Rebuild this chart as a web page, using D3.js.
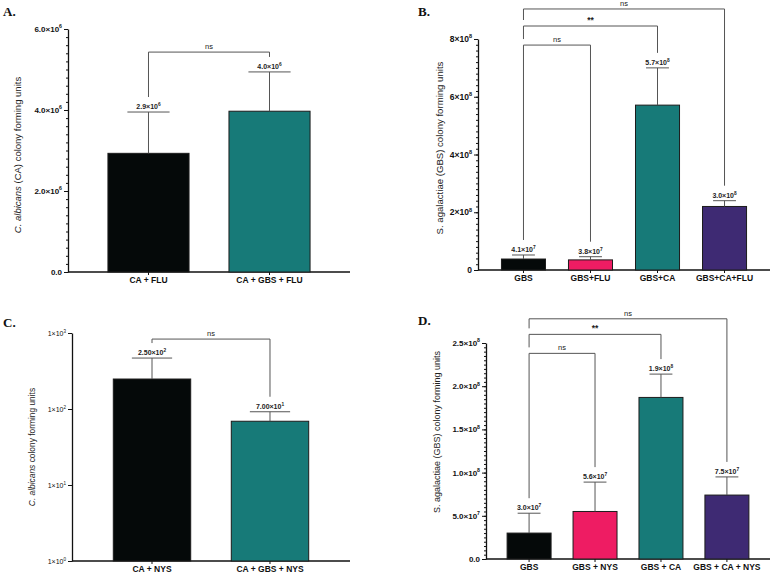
<!DOCTYPE html>
<meta charset="utf-8">
<title>CFU panels</title>
<style>

body {
  margin: 0;
  background-color: white;
}

svg {
  font-family: "Liberation Sans", Arial, sans-serif;
}

.domain {
  stroke: #111;
  stroke-width: 1.3px;
}

.tick line {
  stroke: #111;
}

.brk {
  fill: none;
  stroke: #555;
  stroke-width: 1px;
}

</style>
<body>
<script src="https://cdn.jsdelivr.net/npm/d3@7"></script>
<script>

// panel A
var aCats = ["CA + FLU", "CA + GBS + FLU"],
    aMeans = [2.93e6, 3.97e6],
    aErrTop = [3.95e6, 4.94e6],
    aLabels = ["2.9×10^6", "4.0×10^6"],
    aTicks = [0, 2e6, 4e6, 6e6],
    aTickLabels = ["0.0", "2.0×10^6", "4.0×10^6", "6.0×10^6"],
    aBrackets = [[0, 1, "ns", 5.43e6]];

// panel B
var bCats = ["GBS", "GBS+FLU", "GBS+CA", "GBS+CA+FLU"],
    bMeans = [3.8e7, 3.5e7, 5.71e8, 2.2e8],
    bErrTop = [5.2e7, 4.6e7, 7.0e8, 2.4e8],
    bLabels = ["4.1×10^7", "3.8×10^7", "5.7×10^8", "3.0×10^8"],
    bTicks = [0, 2e8, 4e8, 6e8, 8e8],
    bTickLabels = ["0", "2×10^8", "4×10^8", "6×10^8", "8×10^8"],
    bBrackets = [[0, 3, "ns", 9.04e8], [0, 2, "**", 8.45e8], [0, 1, "ns", 7.79e8]];

// panel C (log)
var cCats = ["CA + NYS", "CA + GBS + NYS"],
    cMeans = [248, 69],
    cErrTop = [468, 92],
    cLabels = ["2.50×10^2", "7.00×10^1"],
    cTicks = [1, 10, 100, 1000],
    cTickLabels = ["1×10^0", "1×10^1", "1×10^2", "1×10^3"],
    cBrackets = [[0, 1, "ns", 832]];

// panel D
var dCats = ["GBS", "GBS + NYS", "GBS + CA", "GBS + CA + NYS"],
    dMeans = [3.0e7, 5.5e7, 1.87e8, 7.4e7],
    dErrTop = [5.3e7, 8.9e7, 2.14e8, 9.5e7],
    dLabels = ["3.0×10^7", "5.6×10^7", "1.9×10^8", "7.5×10^7"],
    dTicks = [0, 5e7, 1e8, 1.5e8, 2e8, 2.5e8],
    dTickLabels = ["0.0", "5.0×10^7", "1.0×10^8", "1.5×10^8", "2.0×10^8", "2.5×10^8"],
    dBrackets = [[0, 3, "ns", 2.78e8], [0, 2, "**", 2.60e8], [0, 1, "ns", 2.38e8]];

var black = "#050909", teal = "#177a78", pink = "#ee1c63", purple = "#3e2a73";

var svg = d3.select("body").append("svg")
    .attr("width", 772)
    .attr("height", 573);

function sup(sel, str, size, supSize) {
  var parts = str.split("^");
  sel.text(null);
  sel.append("tspan").text(parts[0]);
  if (parts[1]) sel.append("tspan").attr("font-size", supSize).attr("dy", -size * 0.45).text(parts[1]);
}

function panel(p) {
  var g = svg.append("g");

  var x = d3.scaleBand().domain(p.cats).range([p.x0, p.x1])
      .paddingInner(p.pi).paddingOuter(p.po);

  var y = (p.log ? d3.scaleLog() : d3.scaleLinear())
      .domain([p.ticks[0], p.ticks[p.ticks.length - 1]])
      .range([p.y1, p.y0]);

  // minor ticks
  if (p.minor) {
    g.append("g")
        .attr("transform", "translate(" + p.x0 + ",0)")
        .call(d3.axisLeft(y).tickValues(d3.range(0, p.ticks[p.ticks.length - 1] + 1, p.minor)).tickSize(2).tickFormat(""))
        .call(function(a) { a.select(".domain").remove(); });
  }

  var ya = g.append("g")
      .attr("transform", "translate(" + p.x0 + ",0)")
      .call(d3.axisLeft(y).tickValues(p.ticks).tickSize(4).tickSizeOuter(0).tickPadding(2));
  ya.selectAll(".tick text")
      .attr("font-size", p.tickSize)
      .attr("font-weight", p.tickWeight)
      .attr("fill", "#111")
      .each(function(d, i) { sup(d3.select(this), p.tickLabels[i], p.tickSize, p.tickSize * 0.65); });

  var xa = g.append("g")
      .attr("transform", "translate(0," + p.y1 + ")")
      .call(d3.axisBottom(x).tickSize(3).tickSizeOuter(0).tickPadding(2));
  xa.select(".domain").attr("d", "M" + p.x0 + ",0H" + p.x1);
  xa.selectAll(".tick text")
      .attr("font-size", 8.5)
      .attr("font-weight", "bold")
      .attr("fill", "#111");

  // bars
  g.selectAll(".bar")
      .data(p.means)
    .enter().append("rect")
      .attr("x", function(d, i) { return x(p.cats[i]); })
      .attr("y", function(d) { return y(d); })
      .attr("width", x.bandwidth())
      .attr("height", function(d) { return y(p.log ? 1 : 0) - y(d); })
      .attr("fill", function(d, i) { return p.colors[i]; })
      .attr("stroke", "#1c1c1c")
      .attr("stroke-width", 1);

  var cx = function(i) { return x(p.cats[i]) + x.bandwidth() / 2; },
      cap = x.bandwidth() * 0.52;

  // error bars (upper only)
  p.err.forEach(function(e, i) {
    g.append("line").attr("class", "brk")
        .attr("x1", cx(i)).attr("x2", cx(i))
        .attr("y1", y(p.means[i])).attr("y2", y(e));
    g.append("line").attr("class", "brk")
        .attr("x1", cx(i) - cap / 2).attr("x2", cx(i) + cap / 2)
        .attr("y1", y(e)).attr("y2", y(e));
    g.append("text")
        .attr("x", cx(i)).attr("y", y(e) - 3)
        .attr("text-anchor", "middle")
        .attr("font-size", 7)
        .attr("font-weight", "bold")
        .attr("fill", "#222")
        .call(sup, p.labels[i], 7, 4.8);
  });

  // significance brackets
  p.brackets.forEach(function(b) {
    var yb = y(b[3]);
    var lower = p.brackets.filter(function(o) { return o[0] === b[0] && y(o[3]) > yb; })
        .map(function(o) { return y(o[3]); });
    var leftEnd = lower.length ? d3.min(lower) - 6 : y(p.err[b[0]]) - 15;
    var rightEnd = y(p.err[b[1]]) - 15;
    g.append("path").attr("class", "brk")
        .attr("d", "M" + cx(b[0]) + "," + leftEnd + "V" + yb + "H" + cx(b[1]) + "V" + rightEnd);
    g.append("text")
        .attr("x", (cx(b[0]) + cx(b[1])) / 2).attr("y", yb - 3)
        .attr("text-anchor", "middle")
        .attr("font-size", b[2] === "**" ? 8.5 : 7.5)
        .attr("font-weight", b[2] === "**" ? "bold" : "normal")
        .attr("fill", "#222")
        .text(b[2]);
  });

  // axis title
  var t = g.append("text")
      .attr("transform", "translate(" + p.tx + "," + p.ty + ")rotate(-90)")
      .attr("text-anchor", "middle")
      .attr("font-size", p.titleSize)
      .attr("fill", "#222");
  if (p.italic) t.append("tspan").attr("font-style", "italic").text(p.italic);
  t.append("tspan").text(p.title);

  // panel letter
  g.append("text")
      .attr("x", p.lx).attr("y", p.ly)
      .attr("font-family", "'Liberation Serif', 'DejaVu Serif', serif")
      .attr("font-weight", "bold")
      .attr("font-size", 13)
      .attr("fill", "#111")
      .text(p.letter);
}

panel({
  cats: aCats, means: aMeans, err: aErrTop, labels: aLabels, ticks: aTicks, tickLabels: aTickLabels,
  brackets: aBrackets, colors: [black, teal], minor: 2e5,
  x0: 68, x1: 350, y0: 29, y1: 272, pi: 0.33, po: 0.33,
  tickSize: 8, tickWeight: "bold",
  italic: "C. albicans", title: " (CA) colony forming units", titleSize: 9.5, tx: 21, ty: 155,
  letter: "A.", lx: 3, ly: 16
});

panel({
  cats: bCats, means: bMeans, err: bErrTop, labels: bLabels, ticks: bTicks, tickLabels: bTickLabels,
  brackets: bBrackets, colors: [black, pink, teal, purple], minor: 2e7,
  x0: 478, x1: 770, y0: 39, y1: 270, pi: 0.343, po: 0.35,
  tickSize: 8.5, tickWeight: "bold",
  title: "S. agalactiae (GBS) colony forming units", titleSize: 9.6, tx: 443, ty: 148,
  letter: "B.", lx: 418, ly: 16
});

panel({
  cats: cCats, means: cMeans, err: cErrTop, labels: cLabels, ticks: cTicks, tickLabels: cTickLabels,
  brackets: cBrackets, colors: [black, teal], log: true,
  x0: 72, x1: 350, y0: 333, y1: 561, pi: 0.344, po: 0.35,
  tickSize: 7, tickWeight: "normal",
  italic: "C. albicans", title: " colony forming units", titleSize: 8.4, tx: 35, ty: 447,
  letter: "C.", lx: 3, ly: 327
});

panel({
  cats: dCats, means: dMeans, err: dErrTop, labels: dLabels, ticks: dTicks, tickLabels: dTickLabels,
  brackets: dBrackets, colors: [black, pink, teal, purple], minor: 5e6,
  x0: 486, x1: 770, y0: 343, y1: 559, pi: 0.333, po: 0.32,
  tickSize: 8, tickWeight: "bold",
  title: "S. agalactiae (GBS) colony forming units", titleSize: 9, tx: 440, ty: 432,
  letter: "D.", lx: 418, ly: 325
});

</script>
